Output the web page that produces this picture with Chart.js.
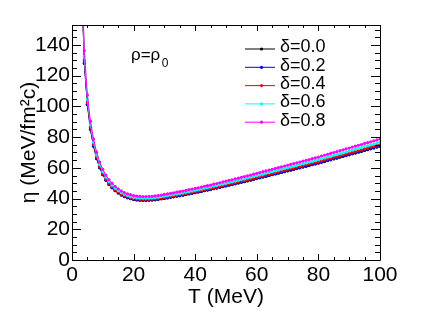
<!DOCTYPE html>
<html>
<head>
<meta charset="utf-8">
<script src="https://cdn.jsdelivr.net/npm/chart.js@4.4.0/dist/chart.umd.min.js"></script>
<style>
html,body{margin:0;padding:0;background:#fff;}
canvas{display:block;}
</style>
</head>
<body>
<canvas id="c" width="430" height="318"></canvas>
<script>
// Temperatures (MeV)
const temperatures = [3,4,5,6,7,8,9,10,11,12,13,14,15,16,17,18,19,20,21,22,23,24,25,26,27,28,29,30,31,32,33,34,35,36,37,38,39,40,41,42,43,44,45,46,47,48,49,50,51,52,53,54,55,56,57,58,59,60,61,62,63,64,65,66,67,68,69,70,71,72,73,74,75,76,77,78,79,80,81,82,83,84,85,86,87,88,89,90,91,92,93,94,95,96,97,98,99,100];

const eta_d00 = [190,128,101,85,74,66,60,55.5,52,49.2,47,45.1,43.6,42.3,41.3,40.5,39.9,39.4,39.1,38.9,38.8,38.8,38.9,39.0,39.2,39.5,39.8,40.1,40.4,40.8,41.1,41.5,41.8,42.2,42.6,43.0,43.4,43.8,44.2,44.6,45.1,45.5,45.9,46.4,46.8,47.3,47.7,48.2,48.7,49.1,49.6,50.1,50.6,51.0,51.5,52.0,52.5,53.0,53.5,54.0,54.5,55.0,55.5,56.0,56.5,57.0,57.5,58.0,58.5,59.0,59.5,60.0,60.5,61.0,61.5,62.0,62.5,63.0,63.6,64.1,64.7,65.2,65.8,66.3,66.9,67.4,68.0,68.5,69.1,69.6,70.2,70.7,71.3,71.8,72.4,72.9,73.5,74.0];

const eta_d02 = [190.8,128.5,101.4,85.3,74.3,66.3,60.2,55.7,52.2,49.4,47.2,45.3,43.8,42.5,41.5,40.7,40.1,39.6,39.3,39.1,39.0,39.0,39.1,39.2,39.4,39.7,40.0,40.3,40.6,41.0,41.3,41.7,42.0,42.4,42.8,43.2,43.6,44.0,44.4,44.8,45.3,45.7,46.1,46.6,47.0,47.5,47.9,48.4,48.9,49.3,49.8,50.3,50.8,51.2,51.7,52.2,52.7,53.2,53.7,54.2,54.7,55.2,55.7,56.2,56.7,57.2,57.7,58.2,58.7,59.2,59.7,60.2,60.7,61.2,61.7,62.2,62.7,63.3,63.9,64.4,65.0,65.5,66.1,66.6,67.2,67.7,68.3,68.8,69.4,69.9,70.5,71.0,71.6,72.1,72.7,73.2,73.8,74.3];

const eta_d04 = [193,130,102.6,86.4,75.2,67.1,61.0,56.4,52.8,50.0,47.8,45.8,44.3,43.0,42.0,41.1,40.5,40.0,39.7,39.5,39.4,39.4,39.5,39.6,39.8,40.1,40.4,40.7,41.0,41.5,41.8,42.2,42.5,42.9,43.3,43.7,44.1,44.5,44.9,45.3,45.8,46.2,46.6,47.1,47.5,48.1,48.5,49.0,49.5,49.9,50.4,50.9,51.4,51.8,52.3,52.8,53.3,53.8,54.4,54.9,55.4,55.9,56.4,56.9,57.4,57.9,58.4,58.9,59.4,59.9,60.5,61.0,61.5,62.0,62.5,63.0,63.5,64.0,64.6,65.1,65.7,66.2,66.9,67.4,68.0,68.5,69.1,69.6,70.2,70.7,71.3,71.8,72.4,72.9,73.6,74.1,74.7,75.2];

const eta_d06 = [196.8,132.6,104.6,88.1,76.7,68.4,62.2,57.5,53.9,51.0,48.7,46.7,45.2,43.8,42.8,42.0,41.3,40.8,40.5,40.3,40.2,40.2,40.3,40.4,40.6,40.9,41.2,41.5,41.9,42.3,42.6,43.0,43.3,43.7,44.1,44.5,45.0,45.4,45.8,46.2,46.7,47.1,47.6,48.1,48.5,49.0,49.4,49.9,50.5,50.9,51.4,51.9,52.4,52.8,53.4,53.9,54.4,54.9,55.4,55.9,56.5,57.0,57.5,58.0,58.5,59.1,59.6,60.1,60.6,61.1,61.6,62.2,62.7,63.2,63.7,64.2,64.8,65.3,65.9,66.4,67.0,67.5,68.2,68.7,69.3,69.8,70.4,71.0,71.6,72.1,72.7,73.2,73.9,74.4,75.0,75.5,76.1,76.7];

const eta_d08 = [202,136.2,107.5,90.4,78.7,70.2,63.8,59.1,55.3,52.3,50.0,48.0,46.4,45.0,43.9,43.1,42.5,41.9,41.6,41.4,41.3,41.3,41.4,41.5,41.7,42.0,42.3,42.7,43.0,43.4,43.7,44.2,44.5,44.9,45.3,45.8,46.2,46.6,47.0,47.5,48.0,48.4,48.8,49.4,49.8,50.3,50.8,51.3,51.8,52.2,52.8,53.3,53.8,54.3,54.8,55.3,55.9,56.4,56.9,57.5,58.0,58.5,59.1,59.6,60.1,60.6,61.2,61.7,62.2,62.8,63.3,63.8,64.4,64.9,65.4,66.0,66.5,67.0,67.7,68.2,68.8,69.4,70.0,70.5,71.2,71.7,72.4,72.9,73.5,74.1,74.7,75.2,75.9,76.4,77.0,77.6,78.2,78.7];

const seriesLabels = ['δ=0.0','δ=0.2','δ=0.4','δ=0.6','δ=0.8'];
const seriesColors = ['#000000','#0000ff','#ff0000','#00ffff','#ff00ff'];
const seriesValues = [eta_d00, eta_d02, eta_d04, eta_d06, eta_d08];

const xTicks = [0,20,40,60,80,100];
const yTicks = [0,20,40,60,80,100,120,140];
const xMin = 0, xMax = 100, yMin = 0, yMax = 153;
const minorStep = 5;

const FONT = 'Liberation Sans, Arial, Helvetica, sans-serif';

const datasets = seriesValues.map((vals, i) => ({
  label: seriesLabels[i],
  data: temperatures.map((t, k) => ({x: t, y: vals[k]})),
  borderColor: seriesColors[i],
  backgroundColor: seriesColors[i],
  pointBackgroundColor: seriesColors[i],
  pointBorderWidth: 0,
  pointRadius: 1.6,
  borderWidth: 1,
  tension: 0,
  order: seriesValues.length - i
}));

const framePlugin = {
  id: 'frame',
  afterDatasetsDraw(chart) {
    const ctx = chart.ctx;
    const a = chart.chartArea;
    const xs = chart.scales.x, ys = chart.scales.y;
    ctx.save();
    ctx.strokeStyle = '#000';
    ctx.lineWidth = 1;
    ctx.beginPath();
    ctx.rect(Math.round(a.left) + 0.5, Math.round(a.top) + 0.5, Math.round(a.right - a.left), Math.round(a.bottom - a.top));
    ctx.stroke();
    ctx.beginPath();
    // x ticks bottom and top
    for (let v = xMin; v <= xMax + 1e-9; v += minorStep) {
      const major = xTicks.includes(v);
      const len = major ? 6 : 3;
      const px = Math.round(xs.getPixelForValue(v)) + 0.5;
      ctx.moveTo(px, a.bottom); ctx.lineTo(px, a.bottom - len);
      ctx.moveTo(px, a.top); ctx.lineTo(px, a.top + len);
    }
    for (let v = yMin; v <= yMax + 1e-9; v += minorStep) {
      const major = yTicks.includes(v);
      const len = major ? 9 : 5;
      const py = Math.round(ys.getPixelForValue(v)) + 0.5;
      ctx.moveTo(a.left, py); ctx.lineTo(a.left + len, py);
      ctx.moveTo(a.right, py); ctx.lineTo(a.right - len, py);
    }
    ctx.stroke();

    // legend
    ctx.textAlign = 'left';
    ctx.textBaseline = 'middle';
    ctx.font = '18px ' + FONT;
    chart.data.datasets.forEach((ds, i) => {
      const ly = 49 + i * 18.3;
      ctx.strokeStyle = ds.borderColor;
      ctx.lineWidth = 1;
      ctx.beginPath();
      ctx.moveTo(245, ly); ctx.lineTo(275, ly);
      ctx.stroke();
      ctx.fillStyle = ds.borderColor;
      ctx.beginPath();
      ctx.arc(261.5, ly, 1.6, 0, Math.PI * 2);
      ctx.fill();
      ctx.fillStyle = '#000';
      ctx.fillText(ds.label, 280, ly - 1.5);
    });

    // density label
    ctx.fillStyle = '#000';
    ctx.textBaseline = 'alphabetic';
    ctx.font = '17px ' + FONT;
    ctx.fillText('ρ=ρ', 131, 59.5);
    const w = ctx.measureText('ρ=ρ').width;
    ctx.font = '12px ' + FONT;
    ctx.fillText('0', 131 + w + 1.5, 66.5);

    // axis titles
    ctx.font = '21px ' + FONT;
    ctx.textAlign = 'center';
    ctx.fillText('T (MeV)', (a.left + a.right) / 2, 303);
    ctx.save();
    ctx.translate(35, (a.top + a.bottom) / 2);
    ctx.rotate(-Math.PI / 2);
    ctx.fillText('η (MeV/fm²c)', 0, 0);
    ctx.restore();
    ctx.restore();
  }
};

new Chart(document.getElementById('c'), {
  type: 'line',
  data: { datasets },
  options: {
    responsive: false,
    animation: false,
    events: [],
    layout: { padding: { top: 25, right: 50, left: 0, bottom: 0 } },
    plugins: { legend: { display: false }, tooltip: { enabled: false }, title: { display: false } },
    scales: {
      x: {
        type: 'linear',
        min: xMin, max: xMax,
        afterFit(s) { s.height = 58; },
        afterBuildTicks(s) { s.ticks = xTicks.map(v => ({value: v})); },
        grid: { display: false, drawTicks: false },
        border: { display: false },
        ticks: { color: '#000', font: { family: FONT, size: 21 }, padding: 3, maxRotation: 0, autoSkip: false }
      },
      y: {
        type: 'linear',
        min: yMin, max: yMax,
        afterFit(s) { s.width = 72; },
        afterBuildTicks(s) { s.ticks = yTicks.map(v => ({value: v})); },
        grid: { display: false, drawTicks: false },
        border: { display: false },
        ticks: { color: '#000', font: { family: FONT, size: 21 }, padding: 2, autoSkip: false }
      }
    }
  },
  plugins: [framePlugin]
});
</script>
</body>
</html>
